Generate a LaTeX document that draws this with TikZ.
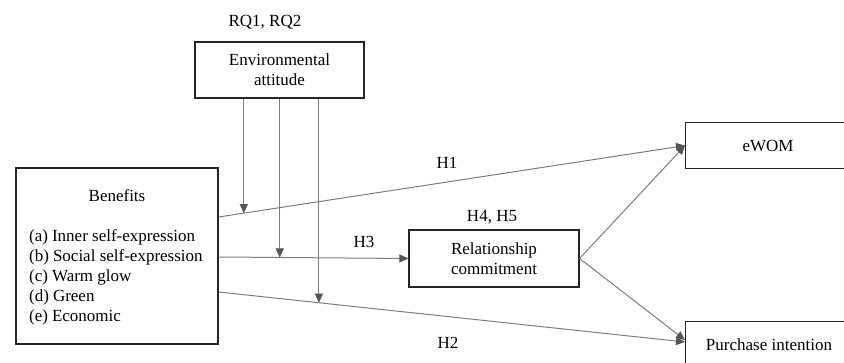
\documentclass[tikz,border=0pt]{standalone}
\usepackage{fontspec}
\setmainfont{Liberation Serif}
\usetikzlibrary{arrows.meta,calc}
\definecolor{lnc}{RGB}{125,125,125}
\definecolor{tipc}{RGB}{85,85,85}
\begin{document}
\begin{tikzpicture}[x=1pt,y=-1pt,
  box/.style={draw=black!85, line width=1.2pt, inner sep=0pt, align=center, font=\fontsize{17}{20}\selectfont},
  lbl/.style={inner sep=0pt, font=\fontsize{17}{20}\selectfont},
  conn/.style={draw=lnc, line width=1pt, -{Triangle[length=9pt,width=8pt,fill=tipc,color=tipc]}},
]
\useasboundingbox (0,0) rectangle (844,363);
% boxes
\node[box, minimum width=169pt, minimum height=56pt] (env) at (279.5,70) {Environmental\\attitude};
\node[box, minimum width=202pt, minimum height=176pt] (ben) at (117,256) {};
\node[lbl] (bent) at (117,196) {Benefits};
\node[lbl, anchor=west, align=left] (benl) at (29,277)
  {(a)\hspace{4pt}Inner self-expression\\(b)\hspace{4pt}Social self-expression\\(c)\hspace{4pt}Warm glow\\(d)\hspace{4pt}Green\\(e)\hspace{4pt}Economic};
\node[box, minimum width=170pt, minimum height=57pt] (rel) at (494,258.5) {Relationship\\commitment};
\node[box, minimum width=180pt, minimum height=46pt, anchor=north west] (ew) at (685,122) {};
\node[lbl] (ewt) at (768,146) {eWOM};
\node[box, minimum width=180pt, minimum height=60pt, anchor=north west] (pi) at (685,321) {};
\node[lbl] (pit) at (769,345) {Purchase intention};
% labels
\node[lbl] (rq) at (265,22) {RQ1, RQ2};
\node[lbl] (h1) at (447,163) {H1};
\node[lbl] (h45) at (492,217) {H4, H5};
\node[lbl] (h3) at (364,242) {H3};
\node[lbl] (h2) at (448,343) {H2};
% connectors
\coordinate (b1) at ([yshift=39pt]ben.east);
\coordinate (b3) at ([yshift=-1pt]ben.east);
\coordinate (b2) at ([yshift=-36pt]ben.east);
\coordinate (pin) at ([yshift=-21pt]pi.north west);
\draw[conn] (b1) -- (ew.west);
\draw[conn] (b3) -- (rel.west);
\draw[conn] (b2) -- (pin);
\draw[conn] (rel.east) -- (ew.west);
\draw[conn] (rel.east) -- ([yshift=-19pt]pi.north west);
% moderation arrows
\coordinate (m1) at ($(b1)!0.054!(ew.west)$);
\coordinate (m2) at ($(b3)!0.322!(rel.west)$);
\coordinate (m3) at ($(b2)!0.215!(pin)$);
\draw[conn] (env.south -| m1) -- (m1);
\draw[conn] (env.south -| m2) -- (m2);
\draw[conn] (env.south -| m3) -- (m3);
\end{tikzpicture}
\end{document}
